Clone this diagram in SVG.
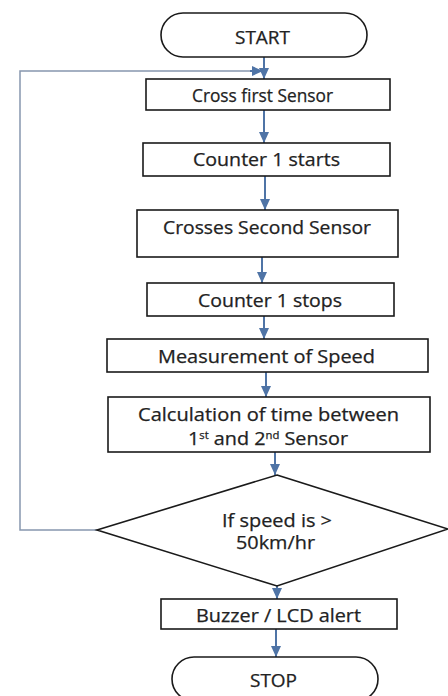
<svg xmlns="http://www.w3.org/2000/svg" width="448" height="696" viewBox="0 0 448 696">
  <style>
    .shape { fill: #ffffff; stroke: #1a1a1a; stroke-width: 1.6; }
    .label { font-family: "Open Sans", "Noto Sans", "Liberation Sans", sans-serif; font-size: 17.5px; fill: #222222; stroke: #222222; stroke-width: 0.25; text-anchor: middle; }
    .flow { fill: none; stroke: #4f74a6; stroke-width: 2; }
    .loop { fill: none; stroke: #8797ae; stroke-width: 1.5; }
    .sup { font-size: 10px; }
  </style>
  <defs>
    <marker id="arrow" markerUnits="userSpaceOnUse" markerWidth="12" markerHeight="12" viewBox="0 0 12 12" refX="11" refY="6" orient="auto">
      <path d="M0,1 L11,6 L0,11 Z" fill="#4f74a6"/>
    </marker>
  </defs>

  <rect width="448" height="696" fill="#ffffff"/>

  <!-- connectors -->
  <g id="connectors">
    <line class="flow" x1="264" y1="57" x2="264" y2="79" marker-end="url(#arrow)"/>
    <polyline class="loop" points="97,530 20,530 20,71 255,71"/>
    <line class="flow" x1="250" y1="71" x2="263" y2="71" marker-end="url(#arrow)"/>
    <line class="flow" x1="264" y1="110" x2="264" y2="143" marker-end="url(#arrow)"/>
    <line class="flow" x1="265" y1="176" x2="265" y2="210" marker-end="url(#arrow)"/>
    <line class="flow" x1="262" y1="257" x2="262" y2="283" marker-end="url(#arrow)"/>
    <line class="flow" x1="264" y1="316" x2="264" y2="339" marker-end="url(#arrow)"/>
    <line class="flow" x1="266" y1="372" x2="266" y2="397" marker-end="url(#arrow)"/>
    <line class="flow" x1="275" y1="452" x2="275" y2="475" marker-end="url(#arrow)"/>
    <line class="flow" x1="277" y1="586" x2="277" y2="599" marker-end="url(#arrow)"/>
    <line class="flow" x1="276" y1="629" x2="276" y2="657" marker-end="url(#arrow)"/>
  </g>

  <g id="start">
    <rect class="shape" x="161" y="13" width="206" height="44" rx="22" ry="22"/>
    <text class="label" x="262.5" y="44" textLength="55" lengthAdjust="spacingAndGlyphs">START</text>
  </g>

  <g id="cross-first">
    <rect class="shape" x="146" y="79" width="244" height="31"/>
    <text class="label" x="262.5" y="102" textLength="141" lengthAdjust="spacingAndGlyphs">Cross first Sensor</text>
  </g>

  <g id="counter-starts">
    <rect class="shape" x="143" y="143" width="247" height="33"/>
    <text class="label" x="266.5" y="166" textLength="147" lengthAdjust="spacingAndGlyphs">Counter 1 starts</text>
  </g>

  <g id="crosses-second">
    <rect class="shape" x="137" y="210" width="261" height="47"/>
    <text class="label" x="267" y="234" textLength="208" lengthAdjust="spacingAndGlyphs">Crosses Second Sensor</text>
  </g>

  <g id="counter-stops">
    <rect class="shape" x="147" y="283" width="247" height="33"/>
    <text class="label" x="270" y="307" textLength="144" lengthAdjust="spacingAndGlyphs">Counter 1 stops</text>
  </g>

  <g id="measurement">
    <rect class="shape" x="107" y="339" width="321" height="33"/>
    <text class="label" x="266.5" y="363" textLength="217" lengthAdjust="spacingAndGlyphs">Measurement of Speed</text>
  </g>

  <g id="calculation">
    <rect class="shape" x="108" y="397" width="322" height="55"/>
    <text class="label" x="268.5" y="421" textLength="261" lengthAdjust="spacingAndGlyphs">Calculation of time between</text>
    <text class="label" x="268" y="445" textLength="160" lengthAdjust="spacingAndGlyphs">1<tspan class="sup" dy="-6">st</tspan><tspan dy="6"> and 2</tspan><tspan class="sup" dy="-6">nd</tspan><tspan dy="6"> Sensor</tspan></text>
  </g>

  <g id="decision">
    <polygon class="shape" points="277,475 448,529 277,586 97,530"/>
    <text class="label" x="277" y="527" textLength="110" lengthAdjust="spacingAndGlyphs">If speed is &gt;</text>
    <text class="label" x="275.5" y="549" textLength="79" lengthAdjust="spacingAndGlyphs">50km/hr</text>
  </g>

  <g id="alert">
    <rect class="shape" x="161" y="599" width="236" height="30"/>
    <text class="label" x="278.5" y="622" textLength="165" lengthAdjust="spacingAndGlyphs">Buzzer / LCD alert</text>
  </g>

  <g id="stop">
    <rect class="shape" x="172" y="657" width="206" height="44" rx="22" ry="22"/>
    <text class="label" x="273.5" y="687" textLength="47" lengthAdjust="spacingAndGlyphs">STOP</text>
  </g>
</svg>
